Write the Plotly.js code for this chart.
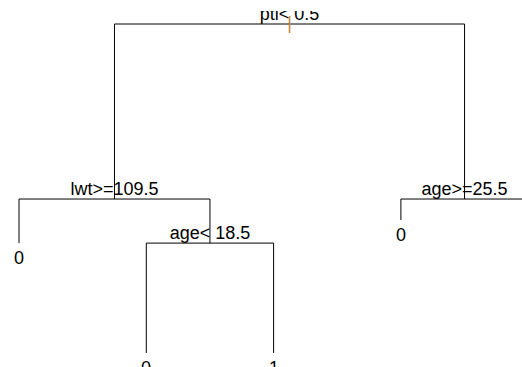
<!DOCTYPE html>
<html>
<head>
<meta charset="utf-8">
<script src="https://cdn.plot.ly/plotly-3.0.1.min.js"></script>
<style>html,body{margin:0;padding:0;background:#fff}</style>
</head>
<body>
<div id="chart" style="width:522px;height:367px"></div>
<script>
// Classification tree in rpart style: children of node n are 2n and 2n+1.
const nodeIds    = [1, 2, 3, 4, 5, 6, 7, 10, 11];
const nodeLabels = ["ptl< 0.5", "lwt>=109.5", "age>=25.5", "0", "age< 18.5", "0", "1", "0", "1"];
// vertical position of each node (relative deviance drop, root = 0)
const nodeDepth  = [0, 0.532, 0.532, 0.666, 0.666, 0.596, 0.62, 1.0, 1.0];

const byId = {};
nodeIds.forEach((id, i) => { byId[id] = {id, label: nodeLabels[i], depth: nodeDepth[i]}; });
const isLeaf = id => !(byId[2 * id] || byId[2 * id + 1]);

// leaves get consecutive x positions in left-to-right order, parents sit midway between children
let leafCount = 0;
function place(id) {
  const n = byId[id];
  if (isLeaf(id)) { n.x = ++leafCount; return n.x; }
  n.x = (place(2 * id) + place(2 * id + 1)) / 2;
  return n.x;
}
place(1);

// branch segments
const bx = [], by = [];
nodeIds.forEach(id => {
  if (isLeaf(id)) return;
  const n = byId[id], l = byId[2 * id], r = byId[2 * id + 1];
  bx.push(l.x, l.x, r.x, r.x, null);
  by.push(l.depth, n.depth, n.depth, r.depth, null);
});

const splits = nodeIds.filter(id => !isLeaf(id)).map(id => byId[id]);
const leaves = nodeIds.filter(id => isLeaf(id)).map(id => byId[id]);
const FONT = {family: '"Liberation Sans", Arial, sans-serif', size: 18, color: '#000'};

const traces = [
  {x: bx, y: by, mode: 'lines', line: {color: '#000', width: 1}, hoverinfo: 'skip'},
  {x: splits.map(n => n.x), y: splits.map(n => n.depth), mode: 'text',
   text: splits.map(n => n.label), textposition: 'top center', textfont: FONT,
   cliponaxis: true, hoverinfo: 'skip'},
  // root marker
  {x: [byId[1].x], y: [byId[1].depth], mode: 'text', text: ['|'], textposition: 'middle center',
   textfont: Object.assign({}, FONT, {color: '#c8843c'}), hoverinfo: 'skip'}
];

const annotations = leaves.map(n => ({
  x: n.x, y: n.depth, xref: 'x', yref: 'y', text: n.label, showarrow: false,
  xanchor: 'center', yanchor: 'top', yshift: -3, font: FONT
}));

const layout = {
  width: 522, height: 367,
  margin: {l: 0, r: 0, t: 11, b: 0},
  paper_bgcolor: '#fff', plot_bgcolor: '#fff',
  showlegend: false,
  xaxis: {range: [0.8507, 4.9513], visible: false, fixedrange: true},
  yaxis: {range: [1.0426, -0.0395], visible: false, fixedrange: true},
  annotations
};

Plotly.newPlot('chart', traces, layout, {staticPlot: true, displayModeBar: false});
</script>
</body>
</html>
